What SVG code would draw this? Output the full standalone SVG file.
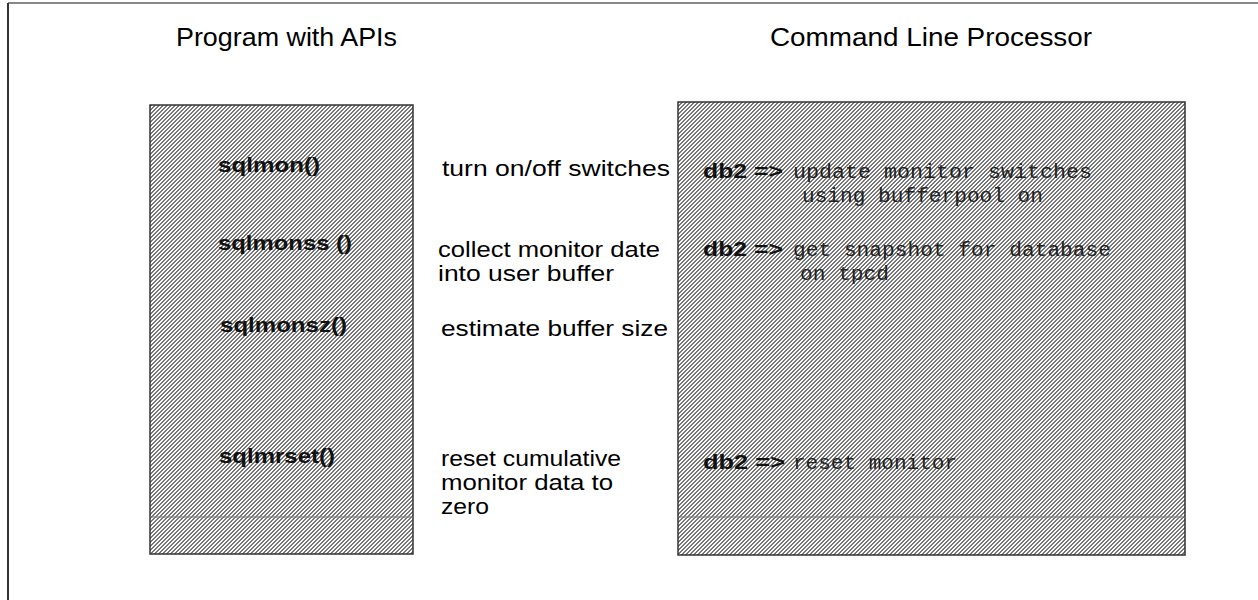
<svg xmlns="http://www.w3.org/2000/svg" width="1258" height="600" viewBox="0 0 1258 600">
<style>
.title{font-family:"Liberation Sans",Arial,sans-serif;font-size:25px;fill:#000}
.api{font-family:"Liberation Sans",Arial,sans-serif;font-size:21px;font-weight:bold;fill:#111}
.mid{font-family:"Liberation Sans",Arial,sans-serif;font-size:22px;fill:#000}
.db{font-family:"Liberation Sans",Arial,sans-serif;font-size:20px;font-weight:bold;fill:#111}
.mono{font-family:"Liberation Mono","Courier New",monospace;font-size:20px;fill:#222}
.box{fill:url(#hatch);stroke:#333;stroke-width:1.5}
.sep{stroke:#777;stroke-width:1}
</style>
<defs>
<pattern id="hatch" x="0" y="0" width="4" height="4" patternUnits="userSpaceOnUse">
<rect width="4" height="4" fill="#fafafa"/>
<g fill="#777" shape-rendering="crispEdges">
<rect x="0" y="0" width="1" height="1"/>
<rect x="3" y="0" width="1" height="1"/>
<rect x="2" y="1" width="2" height="1"/>
<rect x="1" y="2" width="2" height="1"/>
<rect x="0" y="3" width="2" height="1"/>
</g>
</pattern>
</defs>
<g id="frame">
<line x1="8" y1="3" x2="1258" y2="3" stroke="#888" stroke-width="2"/>
<line x1="8" y1="3" x2="8" y2="600" stroke="#333" stroke-width="2"/>
</g>
<g id="titles">
<text class="title" x="176" y="46" textLength="221" lengthAdjust="spacingAndGlyphs">Program with APIs</text>
<text class="title" x="770" y="46" textLength="322" lengthAdjust="spacingAndGlyphs">Command Line Processor</text>
</g>
<g id="api-box">
<rect class="box" x="150" y="105" width="263" height="449"/>
<line class="sep" x1="150" y1="517" x2="413" y2="517"/>
<text class="api" x="218" y="172" textLength="102" lengthAdjust="spacingAndGlyphs">sqlmon()</text>
<text class="api" x="218" y="250" textLength="134" lengthAdjust="spacingAndGlyphs">sqlmonss ()</text>
<text class="api" x="220" y="332" textLength="127" lengthAdjust="spacingAndGlyphs">sqlmonsz()</text>
<text class="api" x="219" y="463" textLength="116" lengthAdjust="spacingAndGlyphs">sqlmrset()</text>
</g>
<g id="descriptions">
<text class="mid" x="442" y="176" textLength="228" lengthAdjust="spacingAndGlyphs">turn on/off switches</text>
<text class="mid" x="438" y="257" textLength="222" lengthAdjust="spacingAndGlyphs">collect monitor date</text>
<text class="mid" x="438" y="281" textLength="176" lengthAdjust="spacingAndGlyphs">into user buffer</text>
<text class="mid" x="441" y="336" textLength="227" lengthAdjust="spacingAndGlyphs">estimate buffer size</text>
<text class="mid" x="441" y="466" textLength="180" lengthAdjust="spacingAndGlyphs">reset cumulative</text>
<text class="mid" x="441" y="490" textLength="172" lengthAdjust="spacingAndGlyphs">monitor data to</text>
<text class="mid" x="441" y="514" textLength="48" lengthAdjust="spacingAndGlyphs">zero</text>
</g>
<g id="clp-box">
<rect class="box" x="678" y="102" width="507" height="453"/>
<line class="sep" x1="678" y1="517" x2="1185" y2="517"/>
<text class="db" x="703" y="178" textLength="80" lengthAdjust="spacingAndGlyphs">db2 =&gt;</text>
<text class="mono" x="793" y="178" textLength="299" lengthAdjust="spacingAndGlyphs">update monitor switches</text>
<text class="mono" x="802" y="202" textLength="241" lengthAdjust="spacingAndGlyphs">using bufferpool on</text>
<text class="db" x="703" y="256" textLength="80" lengthAdjust="spacingAndGlyphs">db2 =&gt;</text>
<text class="mono" x="793" y="256" textLength="318" lengthAdjust="spacingAndGlyphs">get snapshot for database</text>
<text class="mono" x="800" y="280" textLength="89" lengthAdjust="spacingAndGlyphs">on tpcd</text>
<text class="db" x="703" y="469" textLength="82" lengthAdjust="spacingAndGlyphs">db2 =&gt;</text>
<text class="mono" x="793" y="469" textLength="164" lengthAdjust="spacingAndGlyphs">reset monitor</text>
</g>
</svg>
